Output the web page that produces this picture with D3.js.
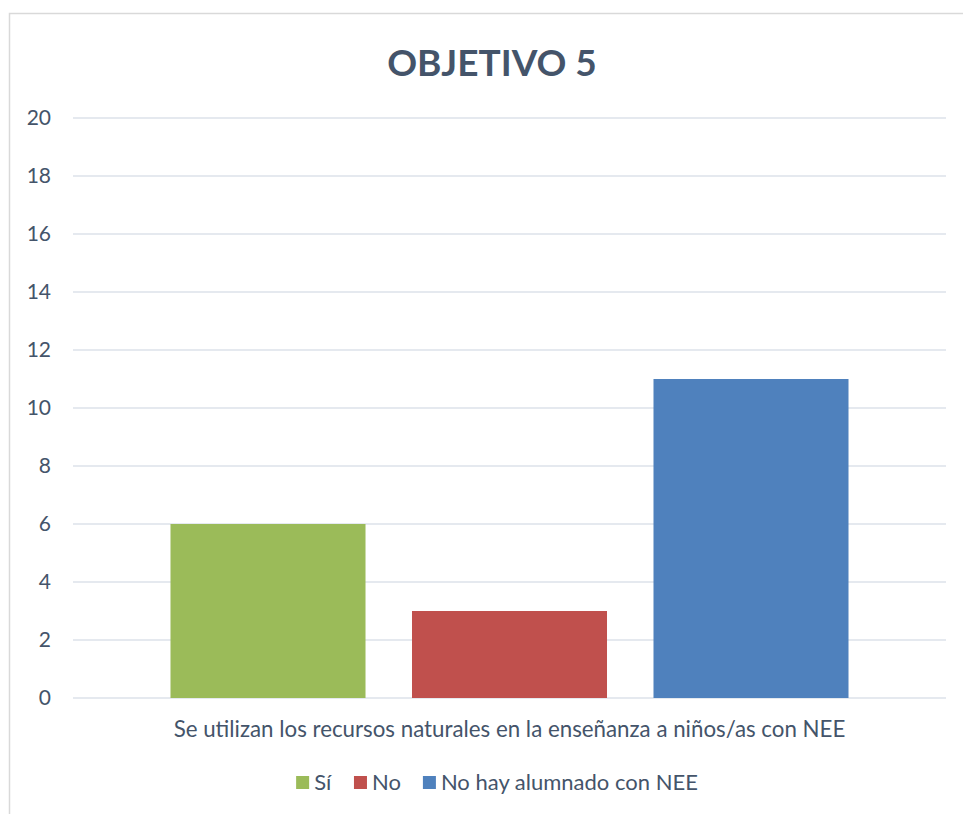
<!DOCTYPE html>
<html><head><meta charset="utf-8">
<script src="https://cdn.jsdelivr.net/npm/d3@7"></script>
<style>body{margin:0;background:#fff}svg{display:block;font-family:Lato,"Open Sans",sans-serif}</style>
</head><body>
<svg id="c" width="963" height="814"></svg>
<script>
const title = "OBJETIVO 5";
const categories = ["Se utilizan los recursos naturales en la enseñanza a niños/as con NEE"];
const seriesNames = ["Sí", "No", "No hay alumnado con NEE"];
const seriesValues = [6, 3, 11];
const seriesColors = ["#9bbb59", "#c0504d", "#4f81bd"];
const yTicks = [0, 2, 4, 6, 8, 10, 12, 14, 16, 18, 20];

const svg = d3.select("#c");
const textColor = "#44546a";
svg.append("rect").attr("x", 9.5).attr("y", 13.5).attr("width", 970).attr("height", 820)
  .attr("fill", "#fff").attr("stroke", "#d9d9d9").attr("stroke-width", 1.5);

const m = {left: 73, right: 946, top: 118, bottom: 698};
const y = d3.scaleLinear().domain([0, 20]).range([m.bottom, m.top]);
const x0 = d3.scaleBand().domain(categories).range([m.left, m.right]).paddingInner(0).paddingOuter(0.1438);
const x1 = d3.scaleBand().domain(seriesNames).range([0, x0.bandwidth()]).paddingInner(0.1925);

svg.append("g").selectAll("line").data(yTicks).join("line")
  .attr("x1", m.left).attr("x2", m.right)
  .attr("y1", d => y(d)).attr("y2", d => y(d))
  .attr("stroke", "#dde2ea").attr("stroke-width", 1.5);

const yAxis = d3.axisLeft(y).tickValues(yTicks).tickSize(0).tickPadding(0);
const ga = svg.append("g").attr("transform", `translate(51,0)`).call(yAxis);
ga.select(".domain").remove();
ga.selectAll("text").attr("fill", textColor).style("font-size", "21px").style("font-family", "Lato,'Open Sans',sans-serif");

categories.forEach(cat => {
  svg.append("g").selectAll("rect").data(seriesValues).join("rect")
    .attr("x", (d, i) => x0(cat) + x1(seriesNames[i]))
    .attr("width", x1.bandwidth())
    .attr("y", d => y(d)).attr("height", d => y(0) - y(d))
    .attr("fill", (d, i) => seriesColors[i]);
  svg.append("text").attr("x", x0(cat) + x0.bandwidth() / 2).attr("y", 737)
    .attr("text-anchor", "middle").attr("fill", textColor).style("font-size", "22.3px").text(cat);
});

svg.append("text").attr("x", 492).attr("y", 76).attr("text-anchor", "middle")
  .attr("fill", textColor).style("font-size", "37px").style("font-weight", "bold").text(title);

// legend
const lg = svg.append("g");
const items = lg.selectAll("g").data(seriesNames).join("g");
items.append("rect").attr("width", 13).attr("height", 13).attr("y", 776).attr("fill", (d, i) => seriesColors[i]);
items.append("text").attr("x", 18).attr("y", 790).attr("fill", textColor).style("font-size", "22px").text(d => d);
let cx = 0; const widths = [];
items.each(function() { widths.push(this.getBBox().width); });
const total = d3.sum(widths) + 22 * (widths.length - 1);
cx = 497 - total / 2;
items.attr("transform", (d, i) => { const t = `translate(${cx},0)`; cx += widths[i] + 22; return t; });
</script>
</body></html>
